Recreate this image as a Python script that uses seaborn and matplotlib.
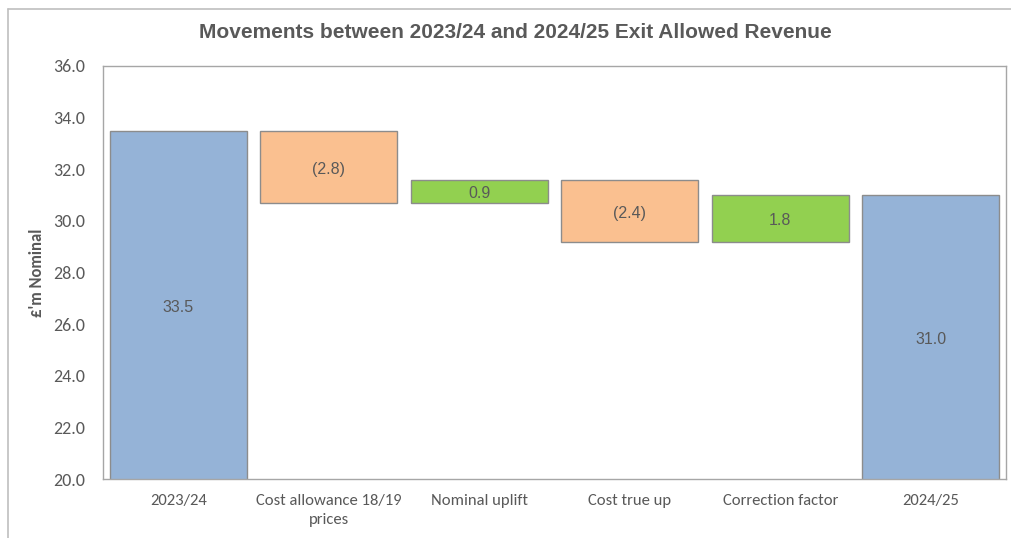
import matplotlib
matplotlib.use("Agg")
import matplotlib.pyplot as plt
import matplotlib.font_manager as fm
from matplotlib.lines import Line2D
import seaborn as sns
import numpy as np

# ---- data ----
categories = ["2023/24", "Cost allowance 18/19\nprices", "Nominal uplift",
              "Cost true up", "Correction factor", "2024/25"]
start_value = 33.5
movements = [-2.8, 0.9, -2.4, 1.8]
end_value = 31.0
labels = ["33.5", "(2.8)", "0.9", "(2.4)", "1.8", "31.0"]
y_ticks = [20.0, 22.0, 24.0, 26.0, 28.0, 30.0, 32.0, 34.0, 36.0]

# ---- waterfall geometry from data ----
bottoms = [0.0]
heights = [start_value]
level = start_value
for m in movements:
    low = min(level, level + m)
    bottoms.append(low)
    heights.append(abs(m))
    level += m
bottoms.append(0.0)
heights.append(end_value)

BLUE, ORANGE, GREEN = "#95B3D7", "#FAC090", "#92D050"
colors = [BLUE] + [GREEN if m > 0 else ORANGE for m in movements] + [BLUE]

avail = {f.name for f in fm.fontManager.ttflist}
def pick(*names):
    for n in names:
        if n in avail:
            return n
    return "DejaVu Sans"
tick_font = pick("Carlito", "Lato", "Open Sans")
num_font = pick("Liberation Sans", "Arial")
title_font = pick("Liberation Sans Narrow", "Liberation Sans")

sns.set_theme(style="white")
TXT = "#595959"

fig = plt.figure(figsize=(10.11, 5.38), dpi=100)
ax = fig.add_axes([103/1011, 1-479/538, 903/1011, 413/538])

sns.barplot(x=list(range(len(categories))), y=heights, bottom=bottoms,
            color=BLUE, width=0.91, ax=ax, edgecolor="#8C8C8C", linewidth=1.0,
            saturation=1)
for p, c in zip(ax.patches, colors):
    p.set_facecolor(c)

ax.set_ylim(20, 36)
ax.set_xlim(-0.5, len(categories) - 0.5)
ax.set_yticks(y_ticks)
ax.set_yticklabels([f"{v:.1f}" for v in y_ticks], fontfamily=tick_font,
                   fontsize=13, color=TXT)
ax.set_xticks(range(len(categories)))
ax.set_xticklabels(categories, fontfamily=tick_font, fontsize=12, color=TXT,
                   linespacing=1.45)
ax.tick_params(axis="x", length=0, pad=11)
ax.tick_params(axis="y", length=0, pad=13)
for s in ax.spines.values():
    s.set_color("#A6A6A6")
    s.set_linewidth(1.0)
    s.set_visible(True)
ax.set_ylabel("£'m Nominal", fontfamily=tick_font, fontsize=12,
              fontweight="bold", color=TXT, labelpad=6)

# data labels centred in visible part of each bar
for i, (b, h, lab) in enumerate(zip(bottoms, heights, labels)):
    lo = max(b, 20)
    hi = b + h
    ax.text(i, (lo + hi) / 2 - 0.1, lab, ha="center", va="center",
            fontfamily=num_font, fontsize=11.5, color=TXT)

fig.text(515/1011, 1-33/538, "Movements between 2023/24 and 2024/25 Exit Allowed Revenue",
         ha="center", va="center", fontfamily=title_font, fontsize=15,
         fontweight="bold", color=TXT)

# outer chart frame (left and top edges visible)
fig.add_artist(Line2D([8/1011, 8/1011], [0, 1-9/538], transform=fig.transFigure,
                      color="#BFBFBF", linewidth=1.2))
fig.add_artist(Line2D([8/1011, 1], [1-9/538, 1-9/538], transform=fig.transFigure,
                      color="#BFBFBF", linewidth=1.2))

fig.savefig("out.png", dpi=100)
